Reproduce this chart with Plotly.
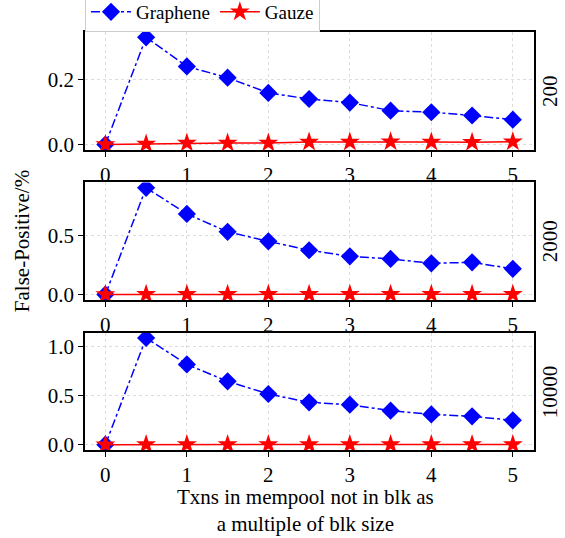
import plotly.graph_objects as go

x_vals = [0, 0.5, 1, 1.5, 2, 2.5, 3, 3.5, 4, 4.5, 5]
panel_labels = ["200", "2000", "10000"]
graphene_200 = [0.0, 0.332, 0.242, 0.207, 0.160, 0.141, 0.130, 0.105, 0.100, 0.090, 0.077]
gauze_200 = [0.0, 0.002, 0.005, 0.005, 0.005, 0.008, 0.008, 0.009, 0.008, 0.007, 0.009]
graphene_2000 = [0.0, 0.900, 0.680, 0.529, 0.449, 0.374, 0.323, 0.301, 0.264, 0.272, 0.217]
gauze_2000 = [0.0, 0.002, 0.002, 0.002, 0.002, 0.002, 0.002, 0.002, 0.002, 0.002, 0.002]
graphene_10000 = [0.0, 1.089, 0.819, 0.646, 0.517, 0.432, 0.408, 0.347, 0.309, 0.289, 0.248]
gauze_10000 = [0.0, 0.002, 0.002, 0.002, 0.002, 0.002, 0.002, 0.002, 0.002, 0.002, 0.002]
y_ranges = [[-0.0165, 0.3485], [-0.045, 0.945], [-0.0545, 1.1445]]
y_dticks = [0.2, 0.5, 0.5]

graphene = [graphene_200, graphene_2000, graphene_10000]
gauze = [gauze_200, gauze_2000, gauze_10000]
domains = [[0.718, 1.0], [0.359, 0.640], [0.0, 0.281]]

FONT = "Liberation Serif"
FS = 21
fig = go.Figure()
for i in range(3):
    xa = "x" if i == 0 else f"x{i+1}"
    ya = "y" if i == 0 else f"y{i+1}"
    fig.add_trace(go.Scatter(
        x=x_vals, y=graphene[i], xaxis=xa, yaxis=ya, name="Graphene",
        mode="lines+markers", showlegend=(i == 0),
        line=dict(color="#0000ff", width=1.5, dash="dashdot"),
        marker=dict(symbol="diamond", size=14, color="#0000ff")))
    fig.add_trace(go.Scatter(
        x=x_vals, y=gauze[i], xaxis=xa, yaxis=ya, name="Gauze",
        mode="lines+markers", showlegend=(i == 0),
        line=dict(color="#ff0000", width=1.5),
        marker=dict(symbol="star", size=15, color="#ff0000")))

axis_common = dict(showline=True, linecolor="black", linewidth=1.5, mirror=True,
                   ticks="outside", ticklen=5, tickwidth=1.2, tickcolor="black",
                   showgrid=True, gridcolor="#dddddd", griddash="dot", gridwidth=1,
                   zeroline=False, automargin=False,
                   tickfont=dict(family=FONT, size=FS, color="black"))
layout = {}
for i in range(3):
    xk = "xaxis" if i == 0 else f"xaxis{i+1}"
    yk = "yaxis" if i == 0 else f"yaxis{i+1}"
    ya = "y" if i == 0 else f"y{i+1}"
    xa = "x" if i == 0 else f"x{i+1}"
    layout[xk] = dict(axis_common, range=[-0.25, 5.26], tickvals=[0, 1, 2, 3, 4, 5],
                      anchor=ya, domain=[0, 1])
    layout[yk] = dict(axis_common, range=y_ranges[i], dtick=y_dticks[i], tick0=0,
                      tickformat=".1f", anchor=xa, domain=domains[i])
fig.update_layout(**layout)

annotations = []
for i in range(3):
    annotations.append(dict(text=panel_labels[i], xref="paper", yref="paper",
                            x=1.0356, y=sum(domains[i]) / 2, showarrow=False,
                            xanchor="center", yanchor="middle",
                            textangle=-90, font=dict(family=FONT, size=FS, color="black")))
annotations.append(dict(text="False-Positive/%", xref="paper", yref="paper",
                        x=-0.14, y=0.5, showarrow=False, textangle=-90,
                        xanchor="center", yanchor="middle",
                        font=dict(family=FONT, size=FS, color="black")))
annotations.append(dict(text="Txns in mempool not in blk as<br>a multiple of blk size",
                        xref="paper", yref="paper", x=0.49, y=-0.08, yanchor="top",
                        xanchor="center",
                        showarrow=False, font=dict(family=FONT, size=FS, color="black")))

fig.update_layout(
    width=565, height=538,
    margin=dict(l=85, r=31, t=32, b=88, autoexpand=False),
    paper_bgcolor="white", plot_bgcolor="white",
    annotations=annotations,
    legend=dict(orientation="h", x=0, y=1.0, xanchor="left", yanchor="bottom",
                bordercolor="#cccccc", borderwidth=1, bgcolor="white",
                font=dict(family=FONT, size=19, color="black"),
                itemwidth=40, tracegroupgap=0),
    font=dict(family=FONT, size=FS, color="black"),
)
fig.write_html("out.html", config={"displayModeBar": False},
               post_script="document.body.style.margin='0';")
